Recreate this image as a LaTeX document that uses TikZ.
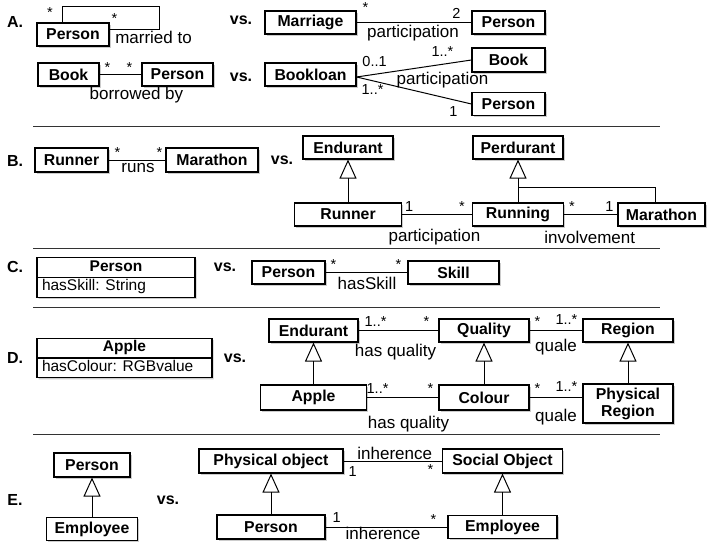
\documentclass[tikz,border=0pt]{standalone}
\usepackage{fontspec}
\setmainfont{Liberation Sans}
\usetikzlibrary{shapes.multipart, arrows.meta, shadows}

\tikzstyle{cls} = [rectangle, draw=black, line width=1.1pt, fill=white, drop shadow={shadow xshift=1.7pt, shadow yshift=-1.7pt, opacity=0.4}, minimum height=23pt, inner sep=2pt, text centered, font=\fontsize{15.8}{17}\selectfont\bfseries]
\tikzstyle{attr} = [rectangle split, rectangle split parts=2, rectangle split part align={center,left}, draw=black, line width=1.1pt, fill=white, drop shadow={shadow xshift=1.7pt, shadow yshift=-1.7pt, opacity=0.4}, inner xsep=5pt, inner ysep=0.5pt, font=\fontsize{15.5}{17.5}\selectfont]
\tikzstyle{lbl} = [inner sep=0pt, font=\fontsize{17}{17}\selectfont]
\tikzstyle{mult} = [inner sep=0pt, font=\fontsize{14.5}{14.5}\selectfont]
\tikzstyle{sec} = [inner sep=0pt, font=\fontsize{16}{16}\selectfont\bfseries]
\tikzstyle{assoc} = [line width=1pt]
\tikzstyle{isa} = [line width=1pt, -{Triangle[open, length=19pt, width=17pt, line width=1pt]}]
\tikzstyle{sep} = [line width=1pt, black!80]

\begin{document}
\begin{tikzpicture}[x=1pt, y=-1pt, node distance=66pt]
\useasboundingbox (0,0) rectangle (707,543);

\node (secA) [sec] at (15,22) {A.};
\node (vsA1) [sec] at (241,20) {vs.};
\node (vsA2) [sec] at (241,77) {vs.};
\node (person1) [cls, minimum width=72pt] at (73,34.5) {Person};
\node (book1) [cls, minimum width=61pt] at (68.5,74.5) {Book};
\node (person2) [cls, minimum width=71pt, right of=book1, xshift=43pt] {Person};
\node (marriage) [cls, minimum width=91pt] at (310.5,22.5) {Marriage};
\node (person3) [cls, minimum width=73pt] at (508.5,22.5) {Person};
\node (loan) [cls, minimum width=91pt] at (310.5,74.5) {Bookloan};
\node (book2) [cls, minimum width=73pt, minimum height=24pt] at (508.5,60) {Book};
\node (person4) [cls, minimum width=73pt] at (508.5,104) {Person};

\draw [assoc] ([xshift=-11pt]person1.north) node[mult, xshift=-12pt, yshift=10pt] {*}
  |- ([xshift=50pt, yshift=16pt]person1.north east)
  |- ([yshift=4.5pt]person1.east) node[mult, xshift=5pt, yshift=11pt] {*} node[lbl, xshift=44pt, yshift=-7pt] {married to};
\draw [assoc] (book1) -- node[mult, pos=0, xshift=8pt, yshift=7pt] {*} node[mult, pos=1, xshift=-12pt, yshift=7pt] {*} node[lbl, pos=1, xshift=-5pt, yshift=-21pt] {borrowed by} (person2);
\draw [assoc] (marriage) -- node[mult, pos=0, xshift=9pt, yshift=14.5pt] {*} node[mult, pos=1, xshift=-15pt, yshift=9.5pt] {2} node[lbl, xshift=-1pt, yshift=-10.5pt] {participation} (person3);
\draw [assoc] ([yshift=-2.5pt]loan.east) -- node[mult, pos=0, xshift=18pt, yshift=15pt] {0..1} node[mult, pos=1, xshift=-29pt, yshift=8pt] {1..*} node[lbl, pos=1, xshift=-29pt, yshift=-20pt] {participation} (book2.west);
\draw [assoc] ([yshift=-2.5pt]loan.east) -- node[mult, pos=0, xshift=16pt, yshift=-13pt] {1..*} node[mult, pos=1, xshift=-18pt, yshift=-8pt] {1} (person4.west);

\draw [sep] (33,126) -- (660,126);

\node (secB) [sec] at (15,161) {B.};
\node (vsB) [sec] at (282,160) {vs.};
\node (runner1) [cls, minimum width=73pt, minimum height=24pt] at (71.5,160) {Runner};
\node (marathon1) [cls, minimum width=92pt, minimum height=24pt, right of=runner1, xshift=74.5pt] {Marathon};
\node (endurant1) [cls, minimum width=90pt] at (348,147.5) {Endurant};
\node (perdurant) [cls, minimum width=90pt] at (518,147.5) {Perdurant};
\node (runner2) [cls, minimum width=107pt, below of=endurant1, yshift=-1pt] {Runner};
\node (running) [cls, minimum width=91pt, below of=perdurant, yshift=-1pt] {Running};
\node (marathon2) [cls, minimum width=87pt] at (661.5,214.5) {Marathon};

\draw [assoc] (runner1) -- node[mult, pos=0, xshift=9pt, yshift=7pt] {*} node[mult, pos=1, xshift=-6pt, yshift=7pt] {*} node[lbl, xshift=1pt, yshift=-8pt] {runs} (marathon1);
\draw [isa] (runner2) -- (endurant1);
\draw [isa] (running) -- (perdurant);
\draw [assoc] ([xshift=-6.5pt]marathon2.north) |- ([yshift=15pt]running.north);
\draw [assoc] (runner2) -- node[mult, pos=0, xshift=7pt, yshift=7.5pt] {1} node[mult, pos=1, xshift=-10pt, yshift=7.5pt] {*} node[lbl, xshift=-2.5pt, yshift=-22.5pt] {participation} (running);
\draw [assoc] (running) -- node[mult, pos=0, xshift=8pt, yshift=7.5pt] {*} node[mult, pos=1, xshift=-8pt, yshift=7.5pt] {1} node[lbl, xshift=-1pt, yshift=-22.5pt] {involvement} (marathon2);

\draw [sep] (33,248) -- (660,248);

\node (secC) [sec] at (15,267) {C.};
\node (vsC) [sec] at (225,267) {vs.};
\node (person5) [attr, minimum width=158pt] at (116,277.5) {\strut\textbf{Person}\nodepart{two}\strut hasSkill: String};
\node (person6) [cls, minimum width=73pt] at (288.5,272.5) {Person};
\node (skill) [cls, minimum width=91pt, right of=person6, xshift=99pt] {Skill};

\draw [assoc] (person6) -- node[mult, pos=0, xshift=8pt, yshift=7.5pt] {*} node[mult, pos=1, xshift=-9pt, yshift=7.5pt] {*} node[lbl, xshift=0.5pt, yshift=-10.5pt] {hasSkill} (skill);

\draw [sep] (33,307) -- (660,307);

\node (secD) [sec] at (15,358) {D.};
\node (vsD) [sec] at (235,358) {vs.};
\node (apple1) [attr, minimum width=175pt] at (124.5,358) {\strut\textbf{Apple}\nodepart{two}\strut hasColour: RGBvalue};
\node (endurant2) [cls, minimum width=89pt] at (313.5,330.5) {Endurant};
\node (quality) [cls, minimum width=90pt] at (484,330.5) {Quality};
\node (region) [cls, minimum width=90pt] at (628,330.5) {Region};
\node (apple2) [cls, minimum width=106pt, minimum height=25pt, below of=endurant2, yshift=-1pt] {Apple};
\node (colour) [cls, minimum width=90pt, minimum height=25pt, below of=quality, yshift=-1pt] {Colour};
\node (physreg) [cls, minimum width=90pt, minimum height=39pt, align=center, below of=region, yshift=-7pt] {Physical\\Region};

\draw [isa] (apple2) -- (endurant2);
\draw [isa] (colour) -- (quality);
\draw [isa] (physreg) -- (region);
\draw [assoc] (endurant2) -- node[mult, pos=0, xshift=17pt, yshift=8.5pt] {1..*} node[mult, pos=1, xshift=-12pt, yshift=8.5pt] {*} node[lbl, pos=0, xshift=37pt, yshift=-21.5pt] {has quality} (quality);
\draw [assoc] (quality) -- node[mult, pos=0, xshift=8pt, yshift=8.5pt] {*} node[mult, pos=1, xshift=-16pt, yshift=10.5pt] {1..*} node[lbl, yshift=-16.5pt] {quale} (region);
\draw [assoc] (apple2) -- node[mult, pos=0, xshift=10.5pt, yshift=8.5pt] {1..*} node[mult, pos=1, xshift=-8pt, yshift=8.5pt] {*} node[lbl, pos=0, xshift=41.5pt, yshift=-26.5pt] {has quality} (colour);
\draw [assoc] (colour.east) -- node[mult, pos=0, xshift=8pt, yshift=8.5pt] {*} node[mult, pos=1, xshift=-16pt, yshift=10.5pt] {1..*} node[lbl, yshift=-19.5pt] {quale} (colour.east -| physreg.west);

\draw [sep] (33,434) -- (660,434);

\node (secE) [sec] at (15,500) {E.};
\node (vsE) [sec] at (168,500) {vs.};
\node (person7) [cls, minimum width=76pt, minimum height=24pt] at (92,465) {Person};
\node (employee1) [cls, minimum width=91pt, below of=person7, yshift=2pt] {Employee};
\node (physobj) [cls, minimum width=144pt, minimum height=24pt] at (271,461) {Physical object};
\node (socobj) [cls, minimum width=120pt, minimum height=24pt] at (502.5,461) {Social Object};
\node (person8) [cls, minimum width=108pt, minimum height=24pt, below of=physobj] {Person};
\node (employee2) [cls, minimum width=109pt, below of=socobj] {Employee};

\draw [isa] (employee1) -- (person7);
\draw [isa] (person8) -- (physobj);
\draw [isa] (employee2) -- (socobj);
\draw [assoc] (physobj) -- node[mult, pos=0, xshift=9pt, yshift=-11pt] {1} node[mult, pos=1, xshift=-11.5pt, yshift=-9pt] {*} node[lbl, xshift=2pt, yshift=8pt] {inherence} (socobj);
\draw [assoc] (person8) -- node[mult, pos=0, xshift=11pt, yshift=9pt] {1} node[mult, pos=1, xshift=-14pt, yshift=7pt] {*} node[lbl, xshift=-3.5pt, yshift=-6.5pt] {inherence} (employee2);

\end{tikzpicture}
\end{document}
